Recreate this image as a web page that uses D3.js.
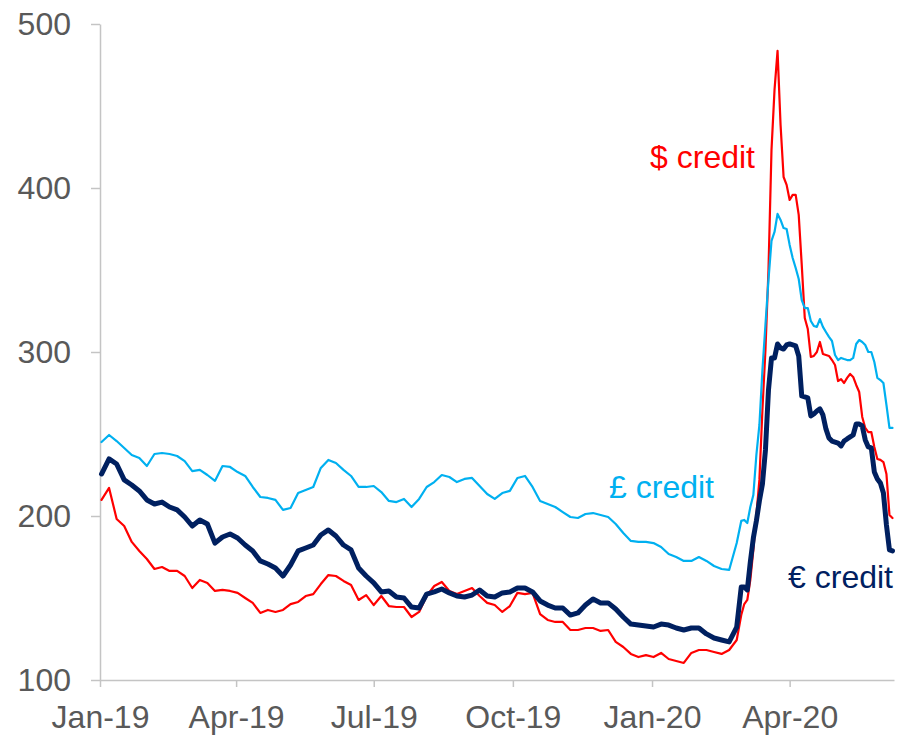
<!DOCTYPE html>
<html>
<head>
<meta charset="utf-8">
<script src="https://cdnjs.cloudflare.com/ajax/libs/d3/7.8.5/d3.min.js"></script>
<style>
  body { margin: 0; background: #ffffff; }
  text { font-family: "Liberation Sans", Arial, sans-serif; }
</style>
</head>
<body>
<div id="chart"></div>
<script>
// dates of the readings (every 5 days, then every 2 days from end of Feb 2020)
var dates = [
  "2019-01-02","2019-01-07","2019-01-12","2019-01-17","2019-01-22","2019-01-27",
  "2019-02-01","2019-02-06","2019-02-11","2019-02-16","2019-02-21","2019-02-26",
  "2019-03-03","2019-03-08","2019-03-13","2019-03-18","2019-03-23","2019-03-28",
  "2019-04-02","2019-04-07","2019-04-12","2019-04-17","2019-04-22","2019-04-27",
  "2019-05-02","2019-05-07","2019-05-12","2019-05-17","2019-05-22","2019-05-27",
  "2019-06-01","2019-06-06","2019-06-11","2019-06-16","2019-06-21","2019-06-26",
  "2019-07-01","2019-07-06","2019-07-11","2019-07-16","2019-07-21","2019-07-26","2019-07-31",
  "2019-08-05","2019-08-10","2019-08-15","2019-08-20","2019-08-25","2019-08-30",
  "2019-09-04","2019-09-09","2019-09-14","2019-09-19","2019-09-24","2019-09-29",
  "2019-10-04","2019-10-09","2019-10-14","2019-10-19","2019-10-24","2019-10-29",
  "2019-11-03","2019-11-08","2019-11-13","2019-11-18","2019-11-23","2019-11-28",
  "2019-12-03","2019-12-08","2019-12-13","2019-12-18","2019-12-23","2019-12-28",
  "2020-01-02","2020-01-07","2020-01-12","2020-01-17","2020-01-22","2020-01-27",
  "2020-02-01","2020-02-06","2020-02-11","2020-02-16","2020-02-21","2020-02-26",
  "2020-02-29","2020-03-02","2020-03-04","2020-03-06","2020-03-08","2020-03-10",
  "2020-03-12","2020-03-14","2020-03-16","2020-03-18","2020-03-20","2020-03-22",
  "2020-03-24","2020-03-26","2020-03-28","2020-03-30","2020-04-01","2020-04-03",
  "2020-04-05","2020-04-07","2020-04-09","2020-04-11","2020-04-13","2020-04-15",
  "2020-04-17","2020-04-19","2020-04-21","2020-04-23","2020-04-25","2020-04-27",
  "2020-04-29","2020-05-01","2020-05-03","2020-05-05","2020-05-07","2020-05-09",
  "2020-05-11","2020-05-13","2020-05-15","2020-05-17","2020-05-19","2020-05-21",
  "2020-05-23","2020-05-25","2020-05-27","2020-05-29","2020-05-31","2020-06-02",
  "2020-06-04","2020-06-06","2020-06-08"
];

// $ credit
var usdCredit = [
  209.8,217.1,198.2,193.9,184.2,178.7,173.8,167.7,168.9,166.5,166.5,163.4,
  156.1,161.0,159.2,154.3,154.9,154.3,153.1,150.0,147.0,140.9,142.7,141.5,
  142.7,146.3,147.6,151.2,152.4,158.5,164.0,163.4,160.4,157.9,148.8,151.8,
  145.7,151.2,145.1,144.5,144.5,138.4,141.5,151.2,157.3,159.8,154.3,152.4,
  154.3,156.1,151.2,147.0,145.7,141.5,145.1,153.1,152.4,153.1,140.2,136.6,
  135.4,135.4,130.5,130.5,131.7,131.7,129.9,130.5,123.2,120.1,115.9,114.0,
  115.2,114.0,116.5,112.8,111.6,110.4,116.5,118.3,118.3,117.1,115.9,118.3,124.4,
  139.6,146.3,148.8,161.0,179.3,200.6,222.0,264.6,301.2,350.0,423.2,459.8,
  483.6,438.4,406.7,401.9,392.7,395.8,395.8,383.6,353.1,320.7,314.0,297.0,
  297.6,300.0,306.1,298.8,298.2,297.6,295.1,292.1,282.3,283.5,281.1,284.2,
  286.6,284.8,279.9,275.6,260.4,253.7,251.2,251.2,242.1,234.8,234.2,232.9,
  225.6,200.6,198.8
];

// £ credit
var gbpCredit = [
  245.1,249.4,245.7,241.5,237.2,235.4,230.5,237.8,238.4,237.8,236.6,233.5,
  227.4,228.1,225.0,221.4,230.5,229.9,226.8,224.4,217.7,211.6,211.0,209.8,
  203.7,204.9,214.0,215.9,217.7,229.3,234.2,232.3,228.1,224.4,217.7,217.7,
  218.3,214.6,209.2,208.5,210.4,205.5,210.4,217.7,220.7,225.0,223.8,220.7,
  222.6,223.2,218.3,213.4,210.4,214.0,215.3,223.2,224.4,217.7,209.2,207.3,
  205.5,202.4,199.4,198.8,201.2,201.8,200.6,199.4,195.1,189.6,184.8,184.2,
  184.2,183.5,181.1,176.8,175.0,172.6,172.6,175.0,172.6,169.5,167.7,167.1,183.5,
  197.0,197.6,195.7,205.5,212.8,237.2,255.5,289.0,316.5,343.9,367.7,373.2,
  384.2,380.5,375.6,375.0,365.3,357.3,351.2,344.5,331.7,326.8,326.8,318.9,
  315.9,315.3,320.1,315.3,312.2,309.2,306.7,298.2,295.1,296.4,295.7,295.1,
  295.1,296.4,304.9,307.3,306.1,304.3,300.0,300.0,293.9,284.2,282.9,281.1,
  267.7,253.7,253.7
];

// € credit
var eurCredit = [
  225.6,234.8,231.7,222.0,218.9,215.3,209.8,207.3,208.5,205.5,203.7,199.4,
  193.9,197.6,195.1,183.5,187.2,189.0,186.6,182.3,178.7,172.6,170.7,168.3,
  163.4,170.1,178.7,180.5,182.3,188.4,191.5,187.8,182.3,179.3,168.3,163.4,
  159.2,153.7,154.3,150.6,150.0,144.5,143.9,152.4,153.7,155.5,153.1,151.2,
  150.6,151.8,154.9,151.2,150.6,153.1,153.7,156.1,156.1,153.7,148.2,145.7,
  143.9,143.9,139.6,140.9,145.7,149.4,147.0,147.0,143.3,138.4,134.1,133.5,
  132.9,132.3,134.1,133.5,131.7,130.5,131.7,131.7,128.1,125.6,124.4,123.2,132.3,
  156.7,156.7,154.9,172.0,186.6,197.0,209.2,219.5,240.3,276.8,296.4,296.4,
  304.9,302.5,301.8,304.3,304.9,304.3,303.7,297.6,273.2,272.6,272.0,261.0,
  262.2,264.0,265.3,261.6,253.1,247.6,245.7,245.1,244.5,242.7,245.7,247.0,
  248.2,249.4,256.1,256.1,254.9,246.4,242.1,241.5,226.8,222.6,220.1,214.0,
  194.5,179.3,178.7
];

var xTicks = ["2019-01-01","2019-04-01","2019-07-01","2019-10-01","2020-01-01","2020-04-01"];
var yTicks = [100, 200, 300, 400, 500];
var xStart = "2019-01-01", xEnd = "2020-06-09";

var svgWidth = 906;
var svgHeight = 735;

var margin = {
  top: 24,
  right: 12,
  bottom: 55,
  left: 100
};

var width = svgWidth - margin.left - margin.right;
var height = svgHeight - margin.top - margin.bottom;

var parseDate = d3.utcParse("%Y-%m-%d");

var svg = d3.select("#chart")
  .append("svg")
  .attr("width", svgWidth)
  .attr("height", svgHeight);

var chartGroup = svg.append("g")
  .attr("transform", `translate(${margin.left}, ${margin.top})`);

var xTimeScale = d3.scaleUtc()
  .domain([parseDate(xStart), parseDate(xEnd)])
  .range([0, width]);

var yLinearScale = d3.scaleLinear()
  .domain([100, 500])
  .range([height, 0]);

var bottomAxis = d3.axisBottom(xTimeScale)
  .tickValues(xTicks.map(parseDate))
  .tickFormat(d3.utcFormat("%b-%y"))
  .tickSize(7)
  .tickSizeOuter(0)
  .tickPadding(18);

var leftAxis = d3.axisLeft(yLinearScale)
  .tickValues(yTicks)
  .tickSize(9)
  .tickSizeOuter(0)
  .tickPadding(20);

var xAxisGroup = chartGroup.append("g")
  .attr("transform", `translate(0, ${height})`)
  .call(bottomAxis);

var yAxisGroup = chartGroup.append("g")
  .call(leftAxis);

[xAxisGroup, yAxisGroup].forEach(function(g) {
  g.selectAll(".domain, .tick line")
    .attr("stroke", "#c4c4c4")
    .attr("stroke-width", 1.5);
  g.selectAll(".tick text")
    .attr("fill", "#595959")
    .attr("font-size", "32px")
    .attr("font-family", "'Liberation Sans', Arial, sans-serif");
});

function toSeries(values) {
  return values.map(function(v, i) {
    return { date: parseDate(dates[i]), value: v };
  });
}

var line = d3.line()
  .x(d => xTimeScale(d.date))
  .y(d => yLinearScale(d.value));

var series = [
  { name: "$ credit", values: usdCredit, color: "#ff0000", width: 2.2 },
  { name: "£ credit", values: gbpCredit, color: "#00b0f0", width: 2.2 },
  { name: "€ credit", values: eurCredit, color: "#002060", width: 5 }
];

chartGroup.selectAll(".series")
  .data(series)
  .enter()
  .append("path")
  .attr("class", "series")
  .attr("d", d => line(toSeries(d.values)))
  .attr("fill", "none")
  .attr("stroke", d => d.color)
  .attr("stroke-width", d => d.width)
  .attr("stroke-linejoin", "round")
  .attr("stroke-linecap", "round");

// series labels
var labels = [
  { text: "$ credit", x: 755, y: 168, color: "#ff0000" },
  { text: "£ credit", x: 714, y: 498, color: "#00b0f0" },
  { text: "€ credit", x: 893, y: 588, color: "#002060" }
];

svg.selectAll(".label")
  .data(labels)
  .enter()
  .append("text")
  .attr("class", "label")
  .attr("x", d => d.x)
  .attr("y", d => d.y)
  .attr("text-anchor", "end")
  .attr("font-size", "32px")
  .attr("fill", d => d.color)
  .text(d => d.text);
</script>
</body>
</html>
